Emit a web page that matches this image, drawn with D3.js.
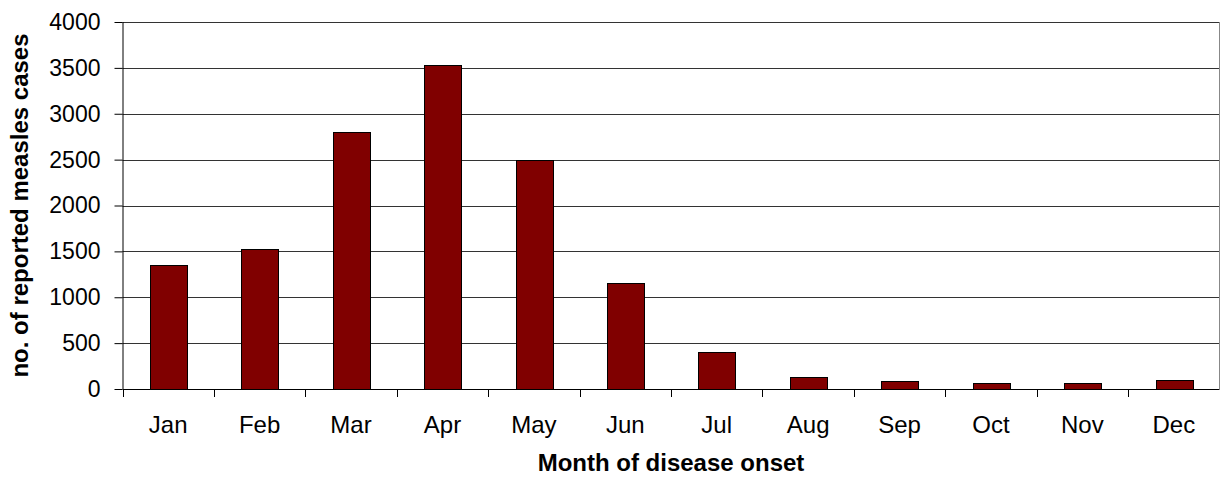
<!DOCTYPE html>
<html><head><meta charset="utf-8">
<script src="https://cdn.jsdelivr.net/npm/d3@7"></script>
<style>body{margin:0;background:#fff}svg{display:block}text{font-family:"Liberation Sans",Arial,sans-serif;fill:#000}</style>
</head><body>
<svg id="c" width="1220" height="477"></svg>
<script>
const months = ["Jan","Feb","Mar","Apr","May","Jun","Jul","Aug","Sep","Oct","Nov","Dec"];
const cases = [1355, 1525, 2800, 3535, 2495, 1155, 400, 135, 85, 70, 70, 100];
const yTicks = [0,500,1000,1500,2000,2500,3000,3500,4000];
const xTitle = "Month of disease onset";
const yTitle = "no. of reported measles cases";

const svg = d3.select("#c");
const L = 122.5, R = 1219.5, T = 22, B = 389;
const x = d3.scaleBand().domain(months).range([L, R]).paddingInner(0.6).paddingOuter(0.3);
const xc = d3.scaleBand().domain(months).range([L, R]);
const y = d3.scaleLinear().domain([0, 4000]).range([B, T]);

// gridlines
svg.append("g").selectAll("line").data(yTicks.filter(d => d > 0)).join("line")
  .attr("x1", L).attr("x2", R).attr("y1", d => Math.round(y(d)) + 0.5).attr("y2", d => Math.round(y(d)) + 0.5)
  .attr("stroke", "#333").attr("stroke-width", 1);
// right border
svg.append("line").attr("x1", R).attr("x2", R).attr("y1", T).attr("y2", B).attr("stroke", "#888");

// bars
svg.append("g").selectAll("rect").data(cases).join("rect")
  .attr("x", (d, i) => Math.round(x(months[i])) + 0.5)
  .attr("width", Math.round(x.bandwidth()))
  .attr("y", d => Math.round(y(d)) + 0.5)
  .attr("height", d => B - Math.round(y(d)))
  .attr("fill", "#800000").attr("stroke", "#000").attr("stroke-width", 1);

// y axis
const ya = svg.append("g").attr("transform", `translate(${L},0)`)
  .call(d3.axisLeft(y).tickValues(yTicks).tickSize(8).tickPadding(14).tickFormat(d3.format("d")));
ya.select(".domain").attr("d", `M0.5,${T}V${B}`).attr("stroke", "#000");
ya.selectAll(".tick line").attr("stroke", "#000");
ya.selectAll(".tick text").style("font-size", "23px").attr("font-family", null);

// x axis
const xa = svg.append("g").attr("transform", `translate(0,${B + 0.5})`)
  .call(d3.axisBottom(xc).tickSize(0).tickPadding(26));
xa.select(".domain").attr("d", `M${L},0H${R}`).attr("stroke", "#000");
xa.selectAll(".tick text").style("font-size", "24px").attr("font-family", null);
// x category boundary ticks
svg.append("g").selectAll("line").data(months.concat(["_end"])).join("line")
  .attr("x1", (d, i) => Math.round(L + i * xc.step()) + 0.5)
  .attr("x2", (d, i) => Math.round(L + i * xc.step()) + 0.5)
  .attr("y1", B).attr("y2", B + 8).attr("stroke", "#000");

// titles
svg.append("text").attr("x", (L + R) / 2).attr("y", 471).attr("text-anchor", "middle")
  .style("font-size", "24px").style("font-weight", "bold").text(xTitle);
svg.append("text").attr("transform", `translate(28,${(T + B) / 2}) rotate(-90)`).attr("text-anchor", "middle")
  .style("font-size", "24px").style("font-weight", "bold").text(yTitle);
</script>
</body></html>
